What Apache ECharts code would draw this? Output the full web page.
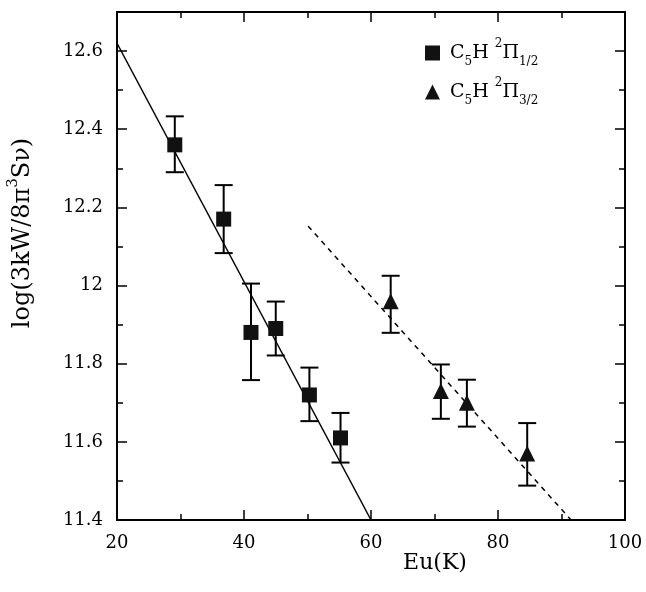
<!DOCTYPE html>
<html>
<head>
<meta charset="utf-8">
<script src="https://cdn.jsdelivr.net/npm/echarts@6/dist/echarts.min.js"></script>
<style>html,body{margin:0;padding:0;background:#fff;}#c{width:646px;height:592px;}</style>
</head>
<body>
<div id="c"></div>
<script>
// Data: C5H 2Pi1/2 (squares)
const sqX    = [29.1, 36.8, 41.1, 45.0, 50.3, 55.2];
const sqY    = [12.36, 12.17, 11.88, 11.89, 11.72, 11.61];
const sqLow  = [12.29, 12.083, 11.758, 11.821, 11.653, 11.547];
const sqHigh = [12.433, 12.257, 12.005, 11.959, 11.79, 11.674];
// Data: C5H 2Pi3/2 (triangles)
const triX    = [63.1, 71.0, 75.1, 84.6];
const triY    = [11.96, 11.73, 11.70, 11.57];
const triLow  = [11.879, 11.659, 11.639, 11.488];
const triHigh = [12.025, 11.798, 11.759, 11.648];
// Fit lines
const fitSolidX = [20, 60];
const fitSolidY = [12.62, 11.40];
const fitDashX = [50.1, 91.5];
const fitDashY = [12.152, 11.40];
// Axis settings
const xTicks = [20, 40, 60, 80, 100];
const yTicks = [11.4, 11.6, 11.8, 12, 12.2, 12.4, 12.6];

const zip = (a, b) => a.map((v, i) => [v, b[i]]);
const zip3 = (a, b, c) => a.map((v, i) => [v, b[i], c[i]]);

const FONT = 'DejaVu Serif';

function errRender(params, api) {
  const x = api.value(0), lo = api.value(1), hi = api.value(2);
  const a = api.coord([x, lo]), b = api.coord([x, hi]);
  const hw = 9;
  const st = { stroke: '#000', lineWidth: 2 };
  return {
    type: 'group',
    children: [
      { type: 'line', shape: { x1: a[0], y1: a[1], x2: b[0], y2: b[1] }, style: st },
      { type: 'line', shape: { x1: a[0] - hw, y1: a[1], x2: a[0] + hw, y2: a[1] }, style: st },
      { type: 'line', shape: { x1: b[0] - hw, y1: b[1], x2: b[0] + hw, y2: b[1] }, style: st }
    ]
  };
}

const axisCommonX = {
  type: 'value', min: 20, max: 100, interval: 20,
  axisLine: { show: true, onZero: false, lineStyle: { color: '#000', width: 2 } },
  axisTick: { show: true, inside: true, length: 10, lineStyle: { color: '#000', width: 1.5 } },
  minorTick: { show: true, splitNumber: 2, length: 6, lineStyle: { color: '#000', width: 1.5 } },
  splitLine: { show: false }
};
const axisCommonY = {
  type: 'value', min: 11.4, max: 12.7, interval: 0.2,
  axisLine: { show: true, onZero: false, lineStyle: { color: '#000', width: 2 } },
  axisTick: { show: true, inside: true, length: 10, lineStyle: { color: '#000', width: 1.5 } },
  minorTick: { show: true, splitNumber: 2, length: 6, lineStyle: { color: '#000', width: 1.5 } },
  splitLine: { show: false }
};

const legendRich = {
  c: { fontFamily: FONT, fontSize: 19, color: '#000', lineHeight: 26, padding: [0, 0, 0, 5] },
  t: { fontFamily: FONT, fontSize: 19, color: '#000', lineHeight: 26 },
  s: { fontFamily: FONT, fontSize: 12, color: '#000', verticalAlign: 'bottom', lineHeight: 22 },
  p: { fontFamily: FONT, fontSize: 12, color: '#000', verticalAlign: 'top', lineHeight: 30 }
};

const chart = echarts.init(document.getElementById('c'), null, { renderer: 'canvas' });
chart.setOption({
  animation: false,
  backgroundColor: '#fff',
  grid: { left: 117, right: 21, top: 12, bottom: 72 },
  xAxis: [
    Object.assign({}, axisCommonX, {
      position: 'bottom',
      axisLabel: { show: true, margin: 14, color: '#000', fontFamily: FONT, fontSize: 18,
        formatter: v => (xTicks.indexOf(v) >= 0 ? String(v) : '') }
    }),
    Object.assign({}, axisCommonX, { position: 'top', axisLabel: { show: false } })
  ],
  yAxis: [
    Object.assign({}, axisCommonY, {
      position: 'left',
      axisLabel: { show: true, margin: 14, color: '#000', fontFamily: FONT, fontSize: 18,
        showMaxLabel: false,
        formatter: v => {
          const r = Math.round(v * 10) / 10;
          return yTicks.some(t => Math.abs(t - r) < 1e-6) ? String(r) : '';
        } }
    }),
    Object.assign({}, axisCommonY, { position: 'right', axisLabel: { show: false } })
  ],
  legend: {
    left: 420, top: 33, orient: 'vertical', itemGap: 9,
    itemWidth: 15, itemHeight: 15,
    data: ['pi12', 'pi32'],
    formatter: n => n === 'pi12'
      ? '{c|C}{s|5}{t|H }{p|2}{t|Π}{s|1/2}'
      : '{c|C}{s|5}{t|H }{p|2}{t|Π}{s|3/2}',
    textStyle: { rich: legendRich, fontFamily: FONT, fontSize: 19, color: '#000' }
  },
  graphic: [
    {
      type: 'text', x: 23, y: 233, rotation: Math.PI / 2,
      style: {
        text: '{a|log(3kW/8π}{b|3}{a|Sν)}',
        align: 'center', verticalAlign: 'middle',
        rich: {
          a: { fontFamily: FONT, fontSize: 24, fill: '#000', lineHeight: 32 },
          b: { fontFamily: FONT, fontSize: 15, fill: '#000', verticalAlign: 'top', lineHeight: 34 }
        }
      }
    },
    {
      type: 'text', x: 435, y: 563,
      style: { text: 'Eu(K)', fontFamily: FONT, fontSize: 22, fill: '#000', align: 'center', verticalAlign: 'middle' }
    }
  ],
  series: [
    {
      type: 'line', data: zip(fitSolidX, fitSolidY), symbol: 'none', silent: true,
      lineStyle: { color: '#000', width: 1.5, type: 'solid' }
    },
    {
      type: 'line', data: zip(fitDashX, fitDashY), symbol: 'none', silent: true,
      lineStyle: { color: '#000', width: 1.5, type: [5, 5] }
    },
    {
      type: 'custom', renderItem: errRender, data: zip3(sqX, sqLow, sqHigh),
      encode: { x: 0, y: [1, 2] }, silent: true, z: 3
    },
    {
      type: 'custom', renderItem: errRender, data: zip3(triX, triLow, triHigh),
      encode: { x: 0, y: [1, 2] }, silent: true, z: 3
    },
    {
      name: 'pi12', type: 'scatter', symbol: 'rect', symbolSize: 15,
      data: zip(sqX, sqY), itemStyle: { color: '#111', opacity: 1 }, z: 5
    },
    {
      name: 'pi32', type: 'scatter', symbol: 'triangle', symbolSize: 16,
      data: zip(triX, triY), itemStyle: { color: '#111', opacity: 1 }, z: 5
    }
  ]
});
</script>
</body>
</html>
